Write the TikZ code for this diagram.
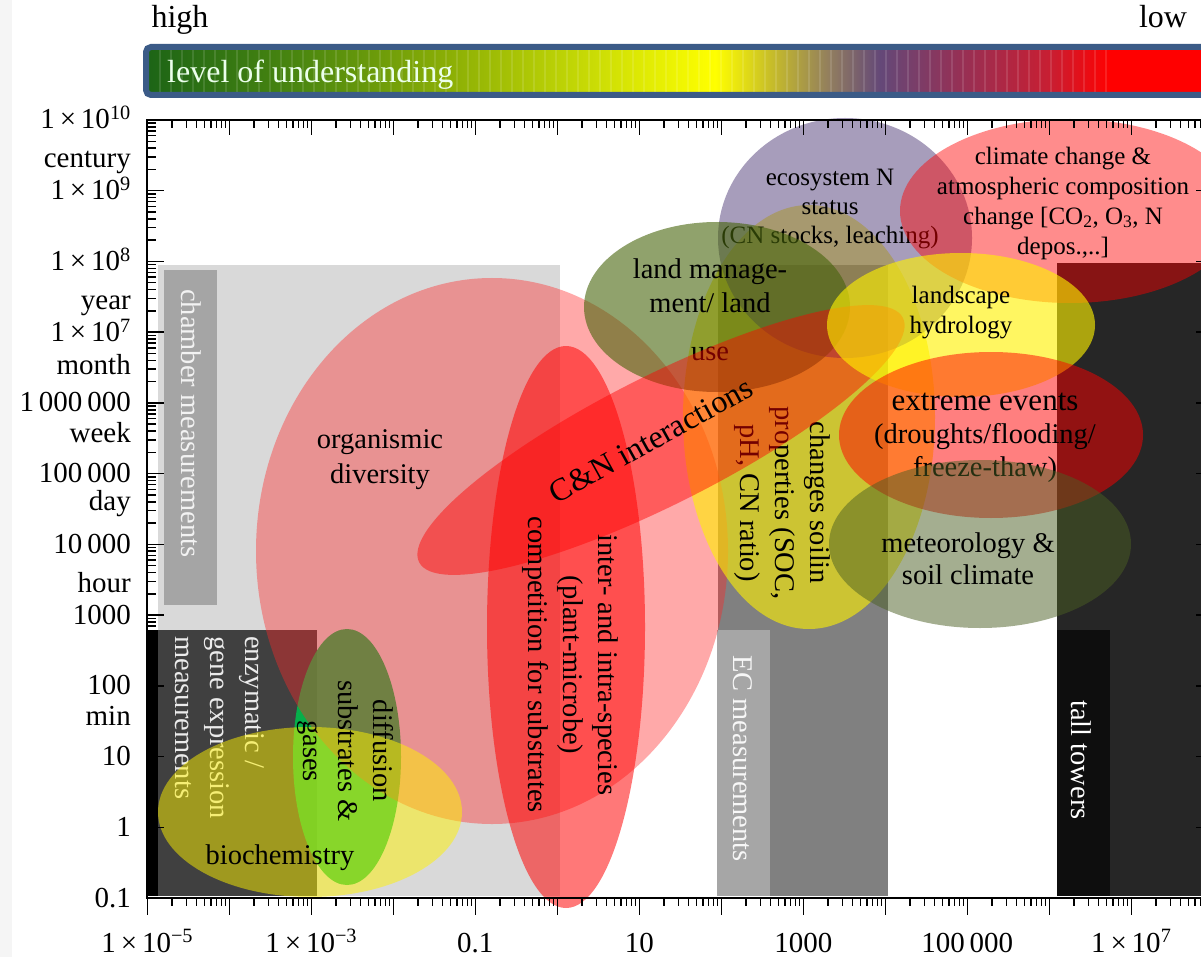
\documentclass[tikz,border=0pt]{standalone}
\usepackage{fontspec}
\setmainfont{Liberation Serif}

\newcommand\bigtxt{\fontsize{28.5}{35}\selectfont}
\newcommand\smtxt{\fontsize{25}{30}\selectfont}
\newcommand\axtxt{\fontsize{29}{34}\selectfont}
\newcommand\bartxt{\fontsize{32}{36}\selectfont}
\newcommand\tenpow[1]{1\,×\,10\textsuperscript{#1}}

\definecolor{chambergray}{RGB}{217,217,217}
\definecolor{chamberbox}{RGB}{165,165,165}
\definecolor{enzgray}{RGB}{64,64,64}
\definecolor{ecgray}{RGB}{128,128,128}
\definecolor{ecbox}{RGB}{166,166,166}
\definecolor{towerdark}{RGB}{38,38,38}
\definecolor{towerbox}{RGB}{14,14,14}
\definecolor{barblue}{RGB}{59,91,135}
\definecolor{difgreen}{RGB}{0,185,75}
\definecolor{orgred}{RGB}{255,40,40}
\definecolor{ecopurple}{RGB}{80,60,120}
\definecolor{landolive}{RGB}{70,100,10}
\definecolor{metolive}{RGB}{75,95,35}

% colour ramp of the understanding bar
\definecolor{bar1}{RGB}{28,100,22}
\definecolor{bar2}{RGB}{75,135,15}
\definecolor{bar3}{RGB}{140,175,5}
\definecolor{bar4}{RGB}{205,222,5}
\definecolor{bar5}{RGB}{255,255,0}
\definecolor{bar6}{RGB}{200,190,40}
\definecolor{bar7}{RGB}{145,125,95}
\definecolor{bar8}{RGB}{100,72,120}
\definecolor{bar9}{RGB}{150,48,85}
\definecolor{bar10}{RGB}{200,30,50}
\definecolor{bar11}{RGB}{255,0,0}
\pgfdeclarehorizontalshading{understanding}{100bp}{color(0bp)=(bar1); color(25bp)=(bar1);
  color(32.16bp)=(bar2); color(39.13bp)=(bar3); color(46.1bp)=(bar4); color(51.44bp)=(bar5);
  color(54bp)=(bar6); color(56.78bp)=(bar7); color(59.11bp)=(bar8); color(62.83bp)=(bar9);
  color(67.01bp)=(bar10); color(69.8bp)=(bar11); color(75bp)=(bar11); color(100bp)=(bar11)}

\begin{document}
\begin{tikzpicture}[
    x=1pt, y=-1pt,
    txt/.style={font=\bigtxt, align=center, inner sep=0pt, text=black},
    vtxt/.style={txt, rotate=-90},
    small/.style={txt, font=\smtxt},
    axlbl/.style={font=\axtxt, inner sep=0pt},
    blob/.style 2 args={fill=#1, fill opacity=#2},
    tickmark/.style={line width=1.5pt, black},
    axisline/.style={line width=2pt, black}
]
% Canvas
\useasboundingbox (0,0) rectangle (1201,957);
\fill[white] (0,0) rectangle (1201,957);
\clip (0,0) rectangle (1201,957);
\fill[gray!8] (0,0) rectangle (12,957);

% Level of understanding bar
\shadedraw[shading=understanding, draw=barblue, line width=6pt, rounded corners=5pt]
    (146,47) rectangle (1222,95);
\foreach \sx in {160,171,...,1110}
    \draw[white, opacity=.12, line width=1.2pt] (\sx,50) -- (\sx,92);
\node[font=\bartxt, text=white!92!green, inner sep=0pt, anchor=base west] (level) at (167,83) {level of understanding};
\node[font=\bartxt, inner sep=0pt, anchor=base] (high) at (180,28) {high};
\node[font=\bartxt, inner sep=0pt, anchor=base] (low) at (1163,28) {low};

% Measurement ranges
\fill[chambergray] (158,265) rectangle (560,896);
\fill[chamberbox] (164,270) rectangle (217,605);
\fill[enzgray] (147,630) rectangle (317,896);
\fill[black] (147,630) rectangle (158,896);
\fill[ecgray] (718,265) rectangle (888,896);
\fill[ecbox] (717,630) rectangle (770,896);
\fill[towerdark] (1057,263) rectangle (1215,896);
\fill[towerbox] (1057,630) rectangle (1110,896);

\node[vtxt, anchor=west, text=white!90!gray] (chamber) at (191,289) {chamber measurements};
\node[vtxt, anchor=west, align=left, text=white!84!gray] (enzyme) at (220,636) {enzymatic /\\gene expression\\measurements};
\node[vtxt, anchor=west, text=white!94!gray] (ec) at (743,655) {EC measurements};
\node[vtxt, anchor=west, text=white] (towers) at (1081,700) {tall towers};

% Processes, bottom layer first
\fill[blob={difgreen}{.92}] (347,757) ellipse [x radius=54, y radius=128];
\fill[blob={orgred}{.4}] (492,551) ellipse [x radius=236, y radius=273];
\fill[blob={yellow}{.5}] (310,812) ellipse [x radius=152, y radius=85];
\fill[blob={red}{.53}] (566,627) ellipse [x radius=79, y radius=281];

\fill[blob={yellow}{.6}] (809,417) ellipse [x radius=126, y radius=212];
\node[vtxt] (soil) at (782,503) {changes soilin\\properties (SOC,\\pH, CN ratio)};

\fill[blob={ecopurple}{.5}] (845,238) ellipse [x radius=127, y radius=120];
\node[small, font=\fontsize{25}{29}\selectfont] (eco) at (830,209) {ecosystem N\\status\\(CN stocks, leaching)};

\fill[blob={landolive}{.6}] (717,307) ellipse [x radius=133, y radius=85];
\node[txt, font=\fontsize{28.5}{34}\selectfont] (land) at (710,310) {land manage-\\ment/ land\\[14pt]use};

\fill[blob={red}{.45}, rotate around={26.8:(661,440)}] (661,440) ellipse [x radius=271, y radius=64];

\fill[blob={red}{.45}] (1070,211) ellipse [x radius=170, y radius=92];
\node[small] (climate) at (1063,203) {climate change \&\\atmospheric composition\\change [CO\textsubscript{2}, O\textsubscript{3}, N\\depos.,..]};

\fill[blob={yellow}{.62}] (961,325) ellipse [x radius=134, y radius=72];
\node[small] (hydro) at (961,313) {landscape\\hydrology};

\fill[blob={red}{.5}] (991,435) ellipse [x radius=152, y radius=83];
\node[txt, font=\fontsize{28.5}{33}\selectfont] (extreme) at (985,438) {{\fontsize{31}{33}\selectfont extreme events}\\(droughts/flooding/\\freeze-thaw)};

\fill[blob={metolive}{.5}] (980,544) ellipse [x radius=151, y radius=84];
\node[txt, font=\fontsize{28.5}{32}\selectfont] (meteo) at (968,559) {meteorology \&\\soil climate};

% Labels on top
\node[txt] (organism) at (380,460) {organismic\\diversity};
\node[vtxt] (diffusion) at (345,751) {diffusion\\substrates \&\\gases};
\node[txt] (biochem) at (280,858) {biochemistry};
\node[vtxt] (compete) at (570,665) {inter- and intra-species\\(plant-microbe)\\competition for substrates};
\node[txt, font=\fontsize{32}{36}\selectfont, rotate=29] (cn) at (651,440) {C\&N interactions};

% Axes
\draw[axisline] (147.3,120) -- (1213,120) -- (1213,898) -- (147.3,898) -- cycle;
\foreach \k in {0,...,13} {
    \draw[tickmark] (147.3+82*\k,898) -- ++(0,17);
    \draw[tickmark] (147.3+82*\k,120) -- ++(0,15);
}
\foreach \k in {0,...,12}
  \foreach \m in {2,...,9} {
    \pgfmathsetmacro\xx{147.3+82*(\k+log10(\m))}
    \draw[tickmark] (\xx,898) -- ++(0,8);
    \draw[tickmark] (\xx,120) -- ++(0,8);
}
\foreach \j in {0,...,11} {
    \draw[tickmark] (147.3,898-70.727*\j) -- ++(17,0);
    \draw[tickmark] (1213,898-70.727*\j) -- ++(-17,0);
}
\foreach \j in {0,...,10}
  \foreach \m in {2,...,9} {
    \pgfmathsetmacro\yy{898-70.727*(\j+log10(\m))}
    \draw[tickmark] (147.3,\yy) -- ++(9,0);
    \draw[tickmark] (1213,\yy) -- ++(-9,0);
}

% Axis labels
\foreach \yy/\lab [count=\i] in {120/\tenpow{10}, 190.7/\tenpow{9}, 261.5/\tenpow{8}, 332.2/\tenpow{7},
    402.9/1\,000\,000, 473.6/100\,000, 544.4/10\,000, 615.1/1000, 685.8/100, 756.5/10, 827.3/1, 898/0.1}
    \node[axlbl, anchor=base east] (yv\i) at (131,\yy+9) {\lab};
\foreach \yy/\lab [count=\i] in {168/century, 310/year, 374/month, 442/week, 510/day, 592/hour, 725/min}
    \node[axlbl, anchor=base east] (yu\i) at (131,\yy) {\lab};
\foreach \xx/\lab [count=\i] in {147.3/\tenpow{−5}, 311.3/\tenpow{−3}, 475.3/0.1, 639.3/10,
    803.3/1000, 967.3/100\,000, 1131.3/\tenpow{7}}
    \node[axlbl, anchor=base] (xv\i) at (\xx,952) {\lab};
\end{tikzpicture}
\end{document}
